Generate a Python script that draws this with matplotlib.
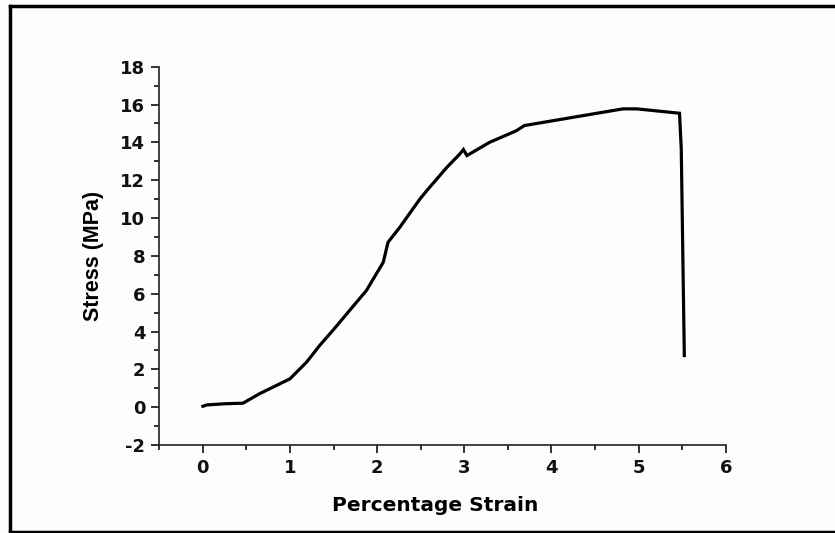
import matplotlib
matplotlib.use("Agg")
import matplotlib.pyplot as plt
from matplotlib.lines import Line2D
from matplotlib.ticker import MultipleLocator

strain = [0.0, 0.05, 0.25, 0.46, 0.65, 1.0, 1.19, 1.34, 1.49, 1.877, 2.07, 2.125,
          2.26, 2.49, 2.57, 2.80, 2.95, 2.99, 3.03, 3.29, 3.60, 3.69, 4.82, 4.98,
          5.47, 5.49, 5.525]
stress = [0.05, 0.12, 0.18, 0.21, 0.71, 1.5, 2.38, 3.26, 4.05, 6.17, 7.66, 8.72,
          9.51, 11.0, 11.45, 12.68, 13.39, 13.62, 13.30, 14.0, 14.62, 14.89, 15.77, 15.77,
          15.54, 13.66, 2.73]
xticks = [0, 1, 2, 3, 4, 5, 6]
yticks = [-2, 0, 2, 4, 6, 8, 10, 12, 14, 16, 18]

plt.rcParams['font.family'] = ['DejaVu Sans']
plt.rcParams['font.weight'] = 'bold'
plt.rcParams['axes.unicode_minus'] = False

fig = plt.figure(figsize=(8.35, 5.33), dpi=100)
fig.patch.set_facecolor('#fdfdfd')
ax = fig.add_axes([159.3/835, (533-445)/533, (725.7-159.3)/835, (445-66.7)/533])
ax.set_facecolor('#fdfdfd')

ax.plot(strain, stress, color='black', lw=2.3, solid_joinstyle='miter')

ax.set_xlim(-0.5, 6)
ax.set_ylim(-2, 18)
ax.set_xticks(xticks)
ax.set_yticks(yticks)
ax.xaxis.set_minor_locator(MultipleLocator(0.5))
ax.yaxis.set_minor_locator(MultipleLocator(1))
for s in ['top', 'right']:
    ax.spines[s].set_visible(False)
for s in ['left', 'bottom']:
    ax.spines[s].set_linewidth(1.2)
    ax.spines[s].set_color('#222222')
ax.tick_params(which='major', length=6, width=1.2, labelsize=13, pad=4, colors='#111111')
ax.tick_params(which='minor', length=3.5, width=1.2, colors='#111111')
for lab in ax.get_xticklabels() + ax.get_yticklabels():
    lab.set_fontweight('bold')

ax.set_xlabel('Percentage Strain', fontsize=14.5, fontweight='bold')
ax.xaxis.set_label_coords((435.5 - 159.3) / 566.4, -0.135)
ax.set_ylabel('Stress (MPa)', fontsize=15.5, fontweight='bold', labelpad=12,
              family=['Liberation Sans', 'DejaVu Sans'])

# outer frame
for coords in [([10/835, 10/835], [1-531.5/533, 1-5.5/533]),
               ([10/835, 1.0], [1-5.5/533, 1-5.5/533]),
               ([10/835, 1.0], [1-531.5/533, 1-531.5/533])]:
    fig.add_artist(Line2D(coords[0], coords[1], color='black', lw=2.5,
                          transform=fig.transFigure))

fig.savefig('out.png', dpi=100, facecolor=fig.get_facecolor())
